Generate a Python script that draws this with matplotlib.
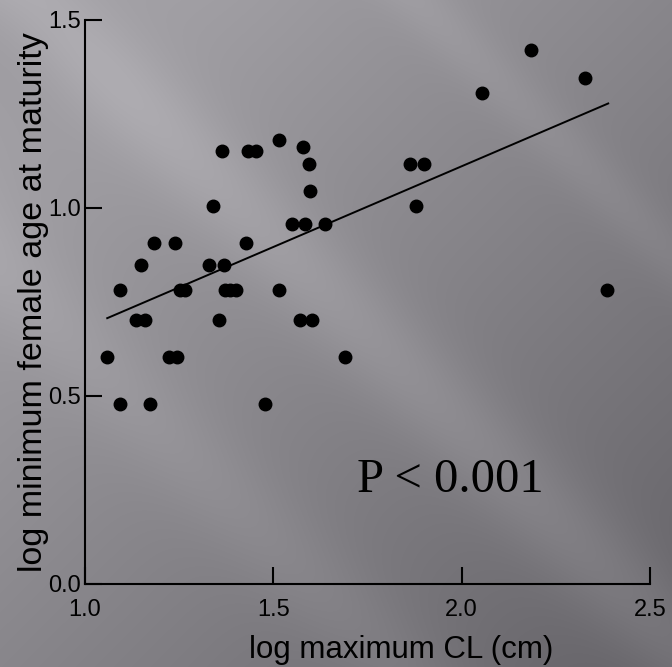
import numpy as np
import matplotlib
matplotlib.use("Agg")
import matplotlib.pyplot as plt

# Data
log_cl = [1.093, 1.253, 1.266, 1.372, 1.384, 1.402, 1.515, 2.386,
          1.150, 1.328, 1.368,
          1.183, 1.240, 1.428,
          1.340, 1.879,
          1.364, 1.432, 1.453,
          1.515, 1.578,
          1.549, 1.585, 1.638,
          1.595, 1.864, 1.901,
          1.598,
          1.135, 1.160, 1.355, 1.570, 1.603,
          1.058, 1.222, 1.244, 1.691,
          1.093, 1.172, 1.477,
          2.055, 2.183, 2.327]
log_age = [0.781, 0.781, 0.781, 0.781, 0.781, 0.781, 0.781, 0.781,
           0.849, 0.849, 0.849,
           0.907, 0.907, 0.907,
           1.004, 1.004,
           1.151, 1.151, 1.151,
           1.180, 1.163,
           0.957, 0.957, 0.957,
           1.118, 1.118, 1.118,
           1.046,
           0.701, 0.701, 0.701, 0.701, 0.701,
           0.604, 0.604, 0.604, 0.604,
           0.478, 0.478, 0.478,
           1.307, 1.419, 1.347]

# regression line end points
fit_x = [1.059, 2.389]
fit_y = [0.707, 1.278]

x_ticks = [1.0, 1.5, 2.0, 2.5]
y_ticks = [0.0, 0.5, 1.0, 1.5]

SANS = "Liberation Sans"

fig = plt.figure(figsize=(6.72, 6.67), dpi=100)

# gray slide background with soft diagonal streaks
bg = fig.add_axes([0, 0, 1, 1], zorder=-1)
h, w = 667, 672
yy, xx = np.mgrid[0:h, 0:w]
t = (xx / w + yy / h) / 2.0
val = 172 - 72 * t
d = (xx - yy) / w
val += 16 * np.exp(-((d - 0.05) / 0.10) ** 2)
val += 10 * np.exp(-((d + 0.40) / 0.10) ** 2)
val += 9 * np.exp(-((d - 0.62) / 0.06) ** 2)
val -= 14 * np.exp(-((xx ** 2 + yy ** 2) / 120.0 ** 2))
img = np.stack([val, val - 2, val + 3], axis=-1)
img = np.clip(img, 0, 255) / 255.0
bg.imshow(img, aspect="auto", extent=[0, 1, 0, 1], origin="upper")
bg.axis("off")

ax = fig.add_axes([85 / 672, 1 - 584 / 667, 565 / 672, 564 / 667])
ax.patch.set_alpha(0)

ax.plot(log_cl, log_age, "o", color="black", ms=9, clip_on=False)
ax.plot(fit_x, fit_y, color="black", lw=1.4)

ax.set_xlim(1.0, 2.5)
ax.set_ylim(0.0, 1.5)
ax.set_xticks(x_ticks)
ax.set_yticks(y_ticks)
ax.set_xticklabels([f"{v:.1f}" for v in x_ticks])
ax.set_yticklabels([f"{v:.1f}" for v in y_ticks])

for s in ["top", "right"]:
    ax.spines[s].set_visible(False)
for s in ["left", "bottom"]:
    ax.spines[s].set_linewidth(1.5)
    ax.spines[s].set_color("black")

ax.tick_params(axis="both", direction="in", length=12, width=1.5,
               labelsize=17, colors="black")
ax.tick_params(axis="x", pad=11)
ax.tick_params(axis="y", pad=3)
for lab in ax.get_xticklabels() + ax.get_yticklabels():
    lab.set_family(SANS)

# axis titles placed explicitly (baseline positions)
ax.text(0.56, -0.131, "log maximum CL (cm)", transform=ax.transAxes,
        fontsize=22.5, family=SANS, ha="center", va="baseline", clip_on=False)
ax.set_ylabel("log minimum female age at maturity", fontsize=24.5, family=SANS,
              va="baseline")
ax.yaxis.set_label_coords(-0.076, 0.5)

ax.text(1.723, 0.245, "P < 0.001", fontsize=35, family="Liberation Serif",
        color="black", va="baseline")

fig.savefig("out.png", dpi=100)
